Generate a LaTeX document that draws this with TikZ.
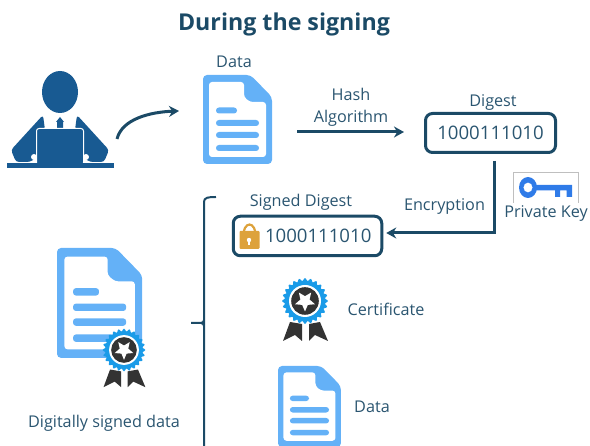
\documentclass[tikz,border=0pt]{standalone}
\usepackage{fontspec}
\setmainfont{Open Sans}
\usetikzlibrary{shapes.geometric,arrows.meta}
\definecolor{ink}{HTML}{1B4A66}
\definecolor{txt}{HTML}{2A5570}
\definecolor{docblue}{HTML}{64B1F7}
\definecolor{person}{HTML}{185A92}
\definecolor{badgeblue}{HTML}{1A9BE8}
\definecolor{badgedark}{HTML}{333333}
\definecolor{lockc}{HTML}{DDA23B}
\definecolor{keyc}{HTML}{2F7BE8}
\tikzset{
  lbl/.style={font=\fontsize{16.2}{19}\selectfont,text=txt,inner sep=0pt,align=center},
  ttl/.style={font=\fontsize{23.2}{27}\selectfont\bfseries,text=ink,inner sep=0pt},
  valbox/.style={draw=ink,line width=3pt,rounded corners=7pt,inner sep=0pt,text=txt,font=\fontsize{18.6}{22}\selectfont},
  flow/.style={draw=ink,line width=3pt,-{Stealth[length=10pt,width=11pt]}},
  brace/.style={draw=ink,line width=2pt},
  docicon/.pic={
    \fill[docblue,rounded corners=4] (0,0) -- (47.5,0) -- (69,22) -- (69,89) -- (0,89) -- cycle;
    \fill[white,rounded corners=3] (6,7) -- (41,7) -- (41,22) -- (47,27) -- (63,27) -- (63,82) -- (6,82) -- cycle;
    \fill[docblue,rounded corners=2.9] (13,32.5) rectangle +(21,6);
    \fill[docblue,rounded corners=2.9] (13,45) rectangle +(43,6);
    \fill[docblue,rounded corners=2.9] (13,57) rectangle +(43,6);
    \fill[docblue,rounded corners=2.9] (13,70) rectangle +(43,6);
  },
  badgeicon/.pic={
    \fill[badgedark] (-15,21) -- (-3,23) -- (-3,40) -- (-10,34) -- (-22,40) -- cycle;
    \fill[badgedark] (15,21) -- (4,23) -- (4,40) -- (10,34) -- (23,40) -- cycle;
    \fill[badgeblue] plot[domain=0:360,samples=145] (\x:{21.5+1.4*cos(24*\x)}) -- cycle;
    \fill[white] (0,0) circle (16);
    \fill[badgedark] (0,0) circle (13.8);
    \fill[white] (90:10.5) \foreach \a in {126,162,...,414} {-- (\a:{mod(\a-90,72)==0 ? 10.5 : 4.8})} -- cycle;
  },
}
\begin{document}
\begin{tikzpicture}[x=1pt,y=-1pt]
\useasboundingbox (0,0) rectangle (590,446);
\node[ttl] (title) at (284,24.5) {During the signing};

% person
\fill[person] (60,92) ellipse (18 and 21);
\fill[person,rounded corners=3] (43,115) -- (45,130) -- (36,130) -- (36,158) -- (30,162) -- (16,162) -- (11,150) -- cycle;
\fill[person,rounded corners=3] (77,115) -- (75,130) -- (84,130) -- (84,158) -- (90,162) -- (104,162) -- (109,150) -- cycle;
\fill[white] (34,157) circle (3);
\fill[white] (86,157) circle (3);
\fill[person] (60,117) -- (64,122) -- (63,122) -- (63,128) -- (57,128) -- (57,122) -- (56,122) -- cycle;
\fill[person,draw=white,line width=1pt,rounded corners=2.5] (36.5,128.5) rectangle (83.5,165);
\fill[person] (7,163) rectangle (113.5,168.5);
\coordinate (personout) at (117,139);
\coordinate (docin) at (179,111);
\draw[flow] (personout) .. controls (122,119) and (150,112) .. (docin);

% top data
\pic at (203,75) {docicon};
\node[lbl] (data1) at (234,62) {Data};

% hash
\node[lbl] (hash) at (351,107) {Hash\\[3pt]Algorithm};
\coordinate (hashA) at (297,132);
\coordinate (hashB) at (404,132);
\draw[flow] (hashA) -- (hashB);

% digest
\node[lbl] (digestlbl) at (493,103) {Digest};
\node[valbox,minimum width=130pt,minimum height=39pt] (digest) at (490.5,133) {1000111010};

% key
\draw[draw=black!25,line width=.6pt] (513.7,203) -- (513.7,172.5) -- (578.7,172.5) -- (578.7,203);
\fill[keyc,even odd rule] (528,187.5) ellipse (9 and 10.5) (528,187.5) ellipse (4.6 and 5);
\fill[keyc] (536,185) -- (572,185) -- (572,197) -- (566.5,197) -- (566.5,190.5) -- (560,190.5) -- (560,197) -- (555,197) -- (555,190.5) -- (536,190.5) -- cycle;
\node[lbl] (pk) at (546,214) {Private Key};

% encryption
\node[lbl] (enc) at (444.5,207) {Encryption};
\node[lbl] (sdlbl) at (301,202) {Signed Digest};
\node[valbox,minimum width=148.5pt,minimum height=39.5pt,text width=120pt,align=left] (signed) at (307.5,236) {\hspace*{17.5pt}1000111010};
\draw[flow] ([xshift=3.5pt,yshift=-7pt]digest.south) |- ([xshift=3pt,yshift=3pt]signed.east);

% lock
\draw[lockc,line width=2.2pt] (243,238) .. controls (243,220) and (256,220) .. (256,238);
\fill[lockc,rounded corners=1] (239.5,231) rectangle (259.5,249);
\fill[white] (249,240) circle (2.2);
\fill[white] (248,240) rectangle (250,245);

% brace
\coordinate (braceTop) at (216,197);
\coordinate (braceBot) at (204,446);
\coordinate (braceTip) at (191,323);
\draw[brace] (braceTop) .. controls (208,197) and (204,197.5) .. (204,202) -- (braceBot);
\draw[brace] (braceTip) -- (201,323) .. controls (203,323) and (204,321) .. (204,320);
\draw[brace] (201,323) .. controls (203,323) and (204,325) .. (204,326);

% cert
\pic at (305,301) {badgeicon};
\node[lbl] (cert) at (386,309) {Certificate};

% lower data
\pic[scale=.912] at (278,366) {docicon};
\node[lbl] (data2) at (372,407) {Data};

% signed doc
\pic[scale=1.235] at (57,248) {docicon};
\pic[scale=.93] at (124,350) {badgeicon};
\node[lbl] (dsd) at (104,423) {Digitally signed data};
\end{tikzpicture}
\end{document}
